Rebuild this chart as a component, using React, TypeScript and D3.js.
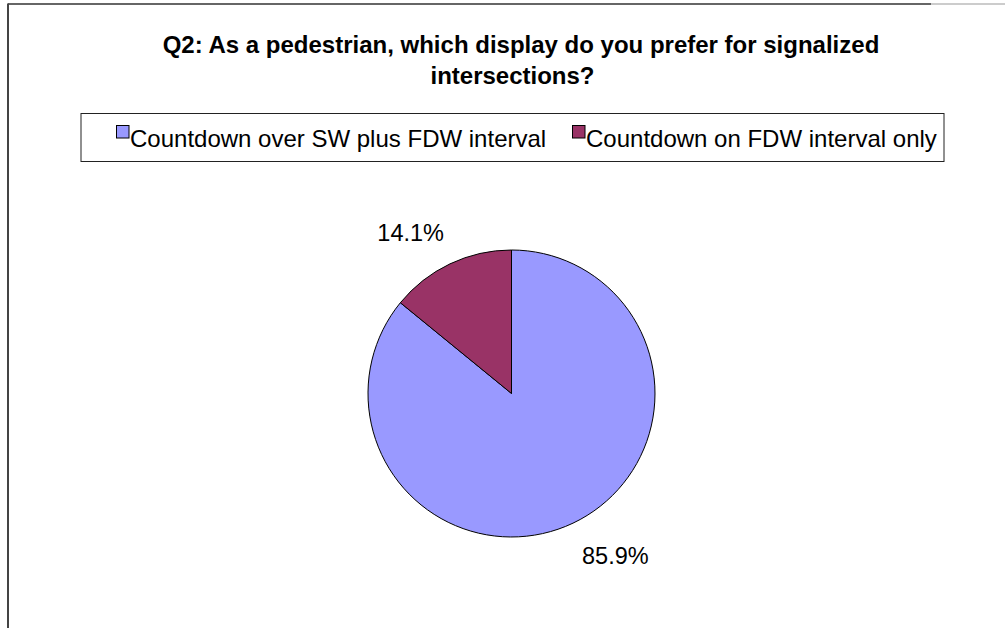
import React from "react";
import * as d3 from "d3";

const titleLines = ["Q2: As a pedestrian, which display do you prefer for signalized", "intersections?"];
const categories = ["Countdown over SW plus FDW interval", "Countdown on FDW interval only"];
const values = [85.9, 14.1];
const colors = ["#9999FF", "#993366"];

const W = 1005;
const H = 628;
const FONT = "'Liberation Sans', Arial, Helvetica, sans-serif";

export default function App() {
  const cx = 511.5;
  const cy = 393.5;
  const r = 143.5;

  const pie = d3.pie<number>().sort(null).value((d) => d).startAngle(0).endAngle(2 * Math.PI);
  const arcs = pie(values);
  const arc = d3.arc<d3.PieArcDatum<number>>().innerRadius(0).outerRadius(r);
  const labelArc = d3.arc<d3.PieArcDatum<number>>().innerRadius(r + 14).outerRadius(r + 14);

  const legendX = [116, 572];

  return (
    <svg
      width={W}
      height={H}
      viewBox={`0 0 ${W} ${H}`}
      style={{ position: "fixed", left: 0, top: 0, background: "#fff" }}
      fontFamily={FONT}
    >
      <rect x={0} y={0} width={W} height={H} fill="#fff" />
      {/* chart area border */}
      <line x1={8} y1={4} x2={931} y2={4} stroke="#333" strokeWidth={1.5} />
      <line x1={931} y1={4} x2={W} y2={4} stroke="#bbb" strokeWidth={1.5} />
      <line x1={8} y1={3.5} x2={8} y2={H} stroke="#444" strokeWidth={2} />

      {/* title */}
      <text x={521} y={52.5} textAnchor="middle" fontSize={24} fontWeight="bold" fill="#000">
        {titleLines[0]}
      </text>
      <text x={512.5} y={84} textAnchor="middle" fontSize={24} fontWeight="bold" fill="#000">
        {titleLines[1]}
      </text>

      {/* legend */}
      <rect x={81} y={113.5} width={863} height={48} fill="#fff" stroke="#222" strokeWidth={1} />
      {categories.map((c, i) => (
        <g key={c}>
          <rect x={legendX[i] + 0.5} y={125.5} width={12.5} height={12.5} fill={colors[i]} stroke="#000" strokeWidth={1} />
          <text x={legendX[i] + 14} y={146.7} fontSize={24} fill="#000">
            {c}
          </text>
        </g>
      ))}

      {/* pie */}
      <g transform={`translate(${cx},${cy})`}>
        {arcs.map((a, i) => (
          <path key={i} d={arc(a) || ""} fill={colors[i]} stroke="#000" strokeWidth={1} />
        ))}
        {arcs.map((a, i) => {
          const [lx, ly] = labelArc.centroid(a);
          const left = lx < 0;
          const upper = ly < 0;
          return (
            <text
              key={"l" + i}
              x={lx + (left ? 0 : 3)}
              y={ly + (upper ? -10 : 28)}
              textAnchor={left ? "end" : "start"}
              fontSize={23.5}
              fill="#000"
            >
              {`${values[i].toFixed(1)}%`}
            </text>
          );
        })}
      </g>
    </svg>
  );
}
